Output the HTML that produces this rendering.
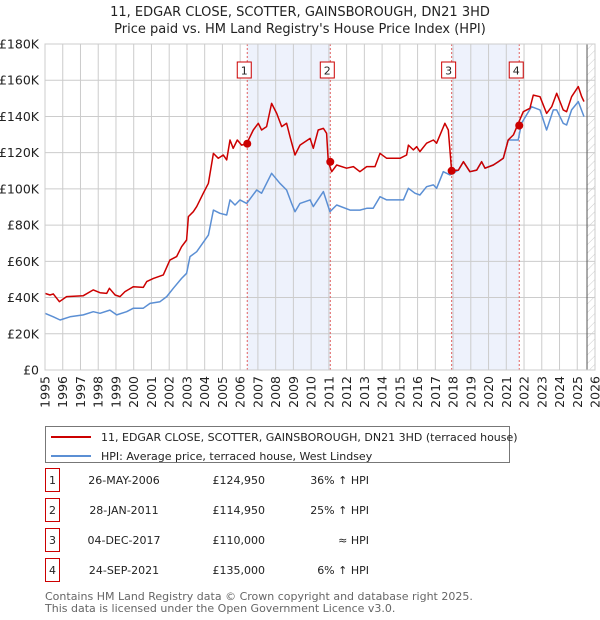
<!DOCTYPE html>
<html><head><meta charset="utf-8"><style>
body{margin:0;background:#fff;font-family:"DejaVu Sans","Liberation Sans",sans-serif;}
#wrap{position:relative;width:600px;height:620px;overflow:hidden;}
</style></head><body>
<div id="wrap">
<svg id="chart" width="600" height="620" xmlns="http://www.w3.org/2000/svg"></svg>
</div>
<script>
const redYears=[1995.0,1995.28,1995.47,1995.81,1996.22,1997.16,1997.72,1998.10,1998.48,1998.63,1998.95,1999.23,1999.51,1999.98,2000.54,2000.73,2001.11,2001.67,2002.04,2002.42,2002.70,2002.98,2003.08,2003.36,2003.55,2003.92,2004.21,2004.49,2004.77,2005.05,2005.24,2005.43,2005.61,2005.84,2006.08,2006.37,2006.74,2007.02,2007.21,2007.49,2007.77,2008.06,2008.34,2008.62,2008.81,2009.09,2009.37,2009.94,2010.12,2010.40,2010.69,2010.87,2010.97,2011.16,2011.44,2012.00,2012.38,2012.75,2013.13,2013.60,2013.88,2014.26,2015.01,2015.38,2015.48,2015.76,2015.95,2016.13,2016.51,2016.89,2017.07,2017.54,2017.73,2017.92,2018.30,2018.58,2018.95,2019.33,2019.61,2019.80,2020.27,2020.55,2020.83,2021.11,2021.40,2021.62,2021.96,2022.33,2022.52,2022.90,2023.27,2023.56,2023.84,2024.21,2024.40,2024.68,2025.06,2025.25,2025.38];
const redValues=[42.3,41.4,42.0,37.7,40.5,41.0,44.2,42.7,42.3,45.1,41.4,40.5,43.3,46.0,45.6,48.8,50.6,52.5,60.7,62.6,68.1,71.8,84.7,87.4,90.2,97.6,103.1,119.6,116.9,118.7,116.0,127.0,122.4,127.0,124.2,125.0,132.5,136.2,132.5,134.4,147.2,141.7,134.4,136.2,128.8,118.7,124.2,127.9,122.4,132.5,133.4,130.7,114.9,109.5,113.2,111.4,112.3,109.5,112.3,112.3,119.6,116.9,116.9,118.7,124.2,121.5,123.3,120.6,125.2,127.0,125.2,136.2,132.5,110.1,110.4,115.0,109.5,110.4,115.0,111.4,113.2,115.0,116.9,127.0,129.8,134.9,142.6,144.5,151.8,150.9,141.7,145.4,152.8,143.6,142.6,150.9,156.5,150.9,148.2];
const hpiYears=[1995.0,1995.47,1995.85,1996.41,1997.16,1997.72,1998.10,1998.66,1999.04,1999.60,1999.98,2000.54,2000.92,2001.48,2001.86,2002.23,2002.70,2002.98,2003.17,2003.55,2004.21,2004.49,2004.86,2005.24,2005.43,2005.71,2005.99,2006.37,2006.93,2007.21,2007.77,2008.24,2008.62,2008.90,2009.09,2009.37,2009.94,2010.12,2010.69,2011.06,2011.44,2012.19,2012.75,2013.13,2013.50,2013.88,2014.26,2015.20,2015.48,2015.85,2016.13,2016.51,2016.89,2017.07,2017.45,2017.83,2018.30,2018.58,2018.95,2019.33,2019.61,2019.80,2020.27,2020.55,2020.83,2021.11,2021.67,2021.86,2022.42,2022.90,2023.27,2023.65,2023.84,2024.21,2024.40,2024.68,2025.06,2025.38];
const hpiValues=[31.3,29.4,27.6,29.4,30.4,32.2,31.3,33.1,30.4,32.2,34.1,34.1,36.8,37.7,40.5,45.1,50.6,53.4,62.6,65.3,74.5,88.3,86.5,85.6,93.9,91.1,93.9,92.0,99.4,97.6,108.6,103.1,99.4,92.0,87.4,92.0,93.9,90.2,98.5,87.4,91.1,88.3,88.3,89.3,89.3,95.7,93.9,93.9,100.3,97.6,96.6,101.2,102.2,100.3,109.5,107.7,110.4,115.0,109.5,110.4,115.0,111.4,113.2,115.0,116.9,127.0,127.0,136.2,145.4,143.6,132.5,143.6,143.6,136.2,135.3,143.6,148.2,139.9];
const saleYears=[2006.40,2011.08,2017.92,2021.73];
const saleValues=[124.95,114.95,110.0,135.0];
const saleLabels=["1","2","3","4"];
const yTicks=[0,20,40,60,80,100,120,140,160,180];
const yTickLabels=["£0","£20K","£40K","£60K","£80K","£100K","£120K","£140K","£160K","£180K"];
const xTicks=[1995,1996,1997,1998,1999,2000,2001,2002,2003,2004,2005,2006,2007,2008,2009,2010,2011,2012,2013,2014,2015,2016,2017,2018,2019,2020,2021,2022,2023,2024,2025,2026];

const L=45,R=595,T=44,B=370,X0=1995,X1=2026,YMAX=180,HATCH=2025.55;
const xs=v=>L+(v-X0)/(X1-X0)*(R-L);
const ys=v=>B-v/YMAX*(B-T);
const NS="http://www.w3.org/2000/svg";
const svg=document.getElementById('chart');
function mk(tag,attrs,parent){const e=document.createElementNS(NS,tag);for(const k in attrs)e.setAttribute(k,attrs[k]);(parent||svg).appendChild(e);return e;}

// title
let t=mk('text',{x:300,y:16,'text-anchor':'middle','font-size':13,fill:'#222'});t.textContent="11, EDGAR CLOSE, SCOTTER, GAINSBOROUGH, DN21 3HD";


t=mk('text',{x:300,y:33,'text-anchor':'middle','font-size':13,fill:'#222'});t.textContent="Price paid vs. HM Land Registry's House Price Index (HPI)";



// shaded spans
for(let i=0;i<saleYears.length;i+=2){
  const r=mk('rect',{x:xs(saleYears[i]),y:T,width:xs(saleYears[i+1])-xs(saleYears[i]),height:B-T,fill:'#eef2fc'});
  
  
}
// hatch
const defs=mk('defs',{});
const pat=mk('pattern',{id:'hatch',width:6,height:6,patternUnits:'userSpaceOnUse',patternTransform:'rotate(45)'},defs);
mk('line',{x1:0,y1:0,x2:0,y2:6,stroke:'#ccc','stroke-width':1},pat);
const hr=mk('rect',{x:xs(HATCH),y:T,width:R-xs(HATCH),height:B-T,fill:'url(#hatch)'});



// grid
yTicks.forEach((v,i)=>{
  const g=mk('line',{x1:L,x2:R,y1:ys(v),y2:ys(v),stroke:'#ccc','stroke-width':1});
  
  
  const tx=mk('text',{x:L-6,y:ys(v)+4.5,'text-anchor':'end','font-size':12.5,fill:'#222'});tx.textContent=yTickLabels[i];
  
  
});
xTicks.forEach(v=>{
  const g=mk('line',{x1:xs(v),x2:xs(v),y1:T,y2:B,stroke:'#ccc','stroke-width':1});
  
  
  const tx=mk('text',{x:0,y:0,'text-anchor':'end','font-size':12.5,fill:'#222',transform:`translate(${xs(v)+4.5},${B+6}) rotate(-90)`});tx.textContent=v;
  
  
});
const nl=mk('line',{x1:xs(HATCH),x2:xs(HATCH),y1:T,y2:B,stroke:'#555','stroke-width':1});



// sale vlines + labels
saleYears.forEach((y,i)=>{
  const l=mk('line',{x1:xs(y),x2:xs(y),y1:T,y2:B,stroke:'#e06060','stroke-width':1,'stroke-dasharray':'2,2'});
  
  
  const bx=mk('rect',{x:xs(y)-10,y:62,width:14,height:16,fill:'#fff',stroke:'#c00','stroke-width':1});
  
  
  const tx=mk('text',{x:xs(y)-3,y:74.5,'text-anchor':'middle','font-size':11,fill:'#222'});tx.textContent=saleLabels[i];
  
  
});

function line(xa,va,color,name){
  const d=xa.map((x,i)=>(i?'L':'M')+xs(x).toFixed(1)+','+ys(va[i]).toFixed(1)).join('');
  const p=mk('path',{d:d,fill:'none',stroke:color,'stroke-width':1.5,'stroke-linejoin':'round'});
  
  
}
line(hpiYears,hpiValues,'#5b8fd4','hpi-line');
line(redYears,redValues,'#cc0000','price-paid-line');
saleYears.forEach((y,i)=>{
  const c=mk('circle',{cx:xs(y),cy:ys(saleValues[i]),r:4,fill:'#cc0000'});
  
  
});
const ax=mk('rect',{x:L,y:T,width:R-L,height:B-T,fill:'none',stroke:'#ccc'});



// legend
const lg=mk('g',{});


mk('rect',{x:45.5,y:426.5,width:464,height:36,fill:'#fff',stroke:'#777'},lg);
mk('line',{x1:51,x2:91,y1:437,y2:437,stroke:'#cc0000','stroke-width':2},lg);
mk('line',{x1:51,x2:91,y1:456,y2:456,stroke:'#5b8fd4','stroke-width':2},lg);
t=mk('text',{x:101,y:441,'font-size':11,fill:'#222'},lg);t.textContent="11, EDGAR CLOSE, SCOTTER, GAINSBOROUGH, DN21 3HD (terraced house)";


t=mk('text',{x:101,y:460,'font-size':11,fill:'#222'},lg);t.textContent="HPI: Average price, terraced house, West Lindsey";



// table
const dates=["26-MAY-2006","28-JAN-2011","04-DEC-2017","24-SEP-2021"];
const prices=["£124,950","£114,950","£110,000","£135,000"];
const rel=["36% ↑ HPI","25% ↑ HPI","≈ HPI","6% ↑ HPI"];
dates.forEach((d,i)=>{
  const y=483+i*30;
  const b=mk('rect',{x:45.5,y:y-14.5,width:14,height:23,fill:'#fff',stroke:'#c00'});
  
  
  let tx=mk('text',{x:52.5,y:y+1,'text-anchor':'middle','font-size':11,fill:'#222'});tx.textContent=saleLabels[i];
  
  
  tx=mk('text',{x:124,y:y+1,'text-anchor':'middle','font-size':11,fill:'#222'});tx.textContent=d;
  
  
  tx=mk('text',{x:265,y:y+1,'text-anchor':'end','font-size':11,fill:'#222'});tx.textContent=prices[i];
  
  
  tx=mk('text',{x:369,y:y+1,'text-anchor':'end','font-size':11,fill:'#222'});tx.textContent=rel[i];
  
  
});
t=mk('text',{x:45,y:600,'font-size':11,fill:'#666'});t.textContent="Contains HM Land Registry data © Crown copyright and database right 2025.";


t=mk('text',{x:45,y:612,'font-size':11,fill:'#666'});t.textContent="This data is licensed under the Open Government Licence v3.0.";


</script>
</body></html>
